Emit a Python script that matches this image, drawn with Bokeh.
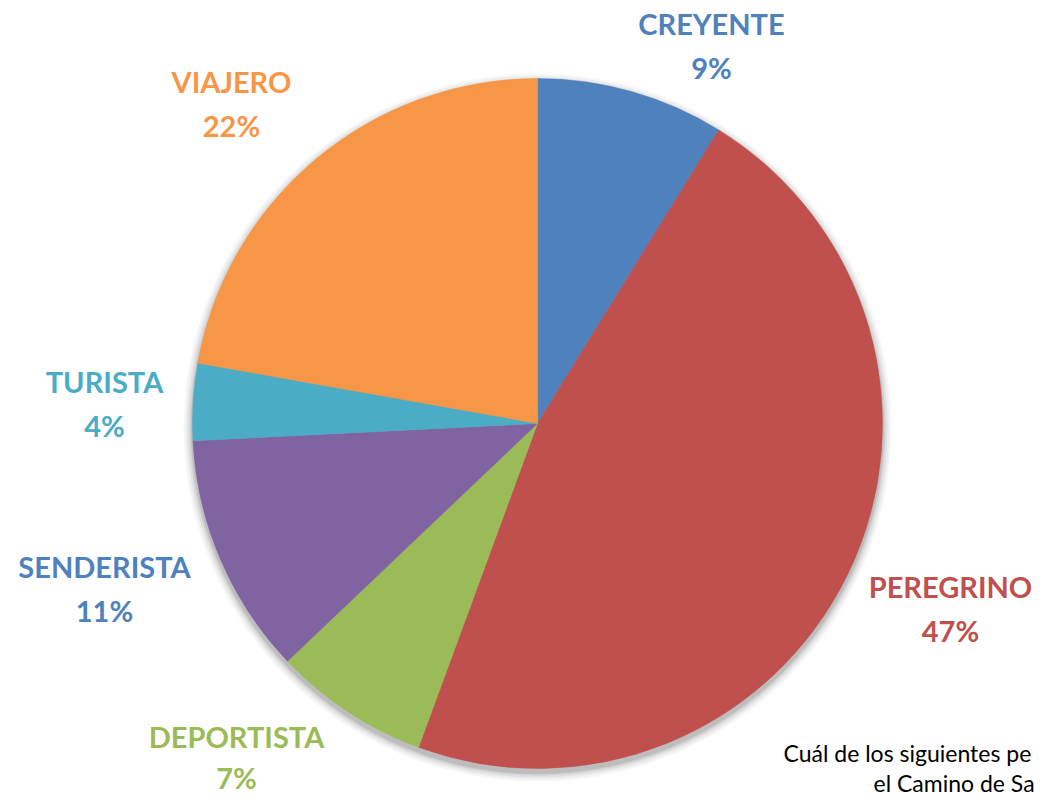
import math
from bokeh.plotting import figure
from bokeh.models import Range1d, ColumnDataSource
from bokeh.core.properties import value
from bokeh.embed import file_html
from bokeh.resources import INLINE

# ---- data ----
categories = ["CREYENTE", "PEREGRINO", "DEPORTISTA", "SENDERISTA", "TURISTA", "VIAJERO"]
shares = [8.8, 46.8, 7.3, 11.3, 3.6, 22.2]
slice_colors = ["#4F81BD", "#C0504D", "#9BBB59", "#8064A2", "#4BACC6", "#F79646"]
label_colors = ["#4F81BD", "#C0504D", "#9BBB59", "#4F81BD", "#4BACC6", "#F79646"]
caption_lines = ["Cuál de los siguientes pe", "el Camino de Sa"]

# ---- layout (pixel-like coordinates, y measured from bottom) ----
W, H = 1037, 797
cx, cy, R = 537, H - 423, 345
# label centre positions (screen px from top-left) of first line
label_pos = {
    "CREYENTE": (711, 23),
    "PEREGRINO": (950, 586),
    "DEPORTISTA": (236, 736),
    "SENDERISTA": (104, 566),
    "TURISTA": (104, 381),
    "VIAJERO": (231, 81),
}
line_gap = {"DEPORTISTA": 41}
default_gap = 44

p = figure(width=W, height=H, output_backend="svg", toolbar_location=None,
           x_range=Range1d(0, W), y_range=Range1d(0, H),
           min_border=0, outline_line_color=None)
p.axis.visible = False
p.grid.visible = False
p.background_fill_color = "white"
p.border_fill_color = "white"

# soft shadow
for dr, a in [(9, 0.03), (7, 0.04), (5, 0.05), (3, 0.07), (1.5, 0.09)]:
    p.circle(x=[cx], y=[cy - 4], radius=R + dr, fill_color="#000000",
             fill_alpha=a, line_color=None)

total = sum(shares)
starts, ends = [], []
cum = 0.0
for s in shares:
    starts.append(math.pi / 2 - 2 * math.pi * cum / total)
    cum += s
    ends.append(math.pi / 2 - 2 * math.pi * cum / total)

src = ColumnDataSource(dict(start=starts, end=ends, color=slice_colors,
                            x=[cx] * len(shares), y=[cy] * len(shares)))
p.wedge(x="x", y="y", radius=R, start_angle="start", end_angle="end",
        direction="clock", fill_color="color", line_color="color",
        line_width=0.5, source=src)

lx, ly1, ly2, t1, t2, lc = [], [], [], [], [], []
for c, s, col in zip(categories, shares, label_colors):
    px, py = label_pos[c]
    lx.append(px)
    ly1.append(H - py)
    ly2.append(H - py - line_gap.get(c, default_gap))
    t1.append(c)
    t2.append(f"{round(s)}%")
    lc.append(col)

for ys, ts in ((ly1, t1), (ly2, t2)):
    p.text(x=lx, y=ys, text=ts, text_color=lc, text_align="center",
           text_baseline="middle", text_font=value("Lato"),
           text_font_style="bold", text_font_size="29px")

p.text(x=[783], y=[H - 752], text=[caption_lines[0]], text_align="left",
       text_baseline="middle", text_font=value("Lato"), text_font_size="23px",
       text_color="#000000")
p.text(x=[873], y=[H - 782], text=[caption_lines[1]], text_align="left",
       text_baseline="middle", text_font=value("Lato"), text_font_size="23px",
       text_color="#000000")

open("out.html", "w").write(file_html(p, INLINE))
